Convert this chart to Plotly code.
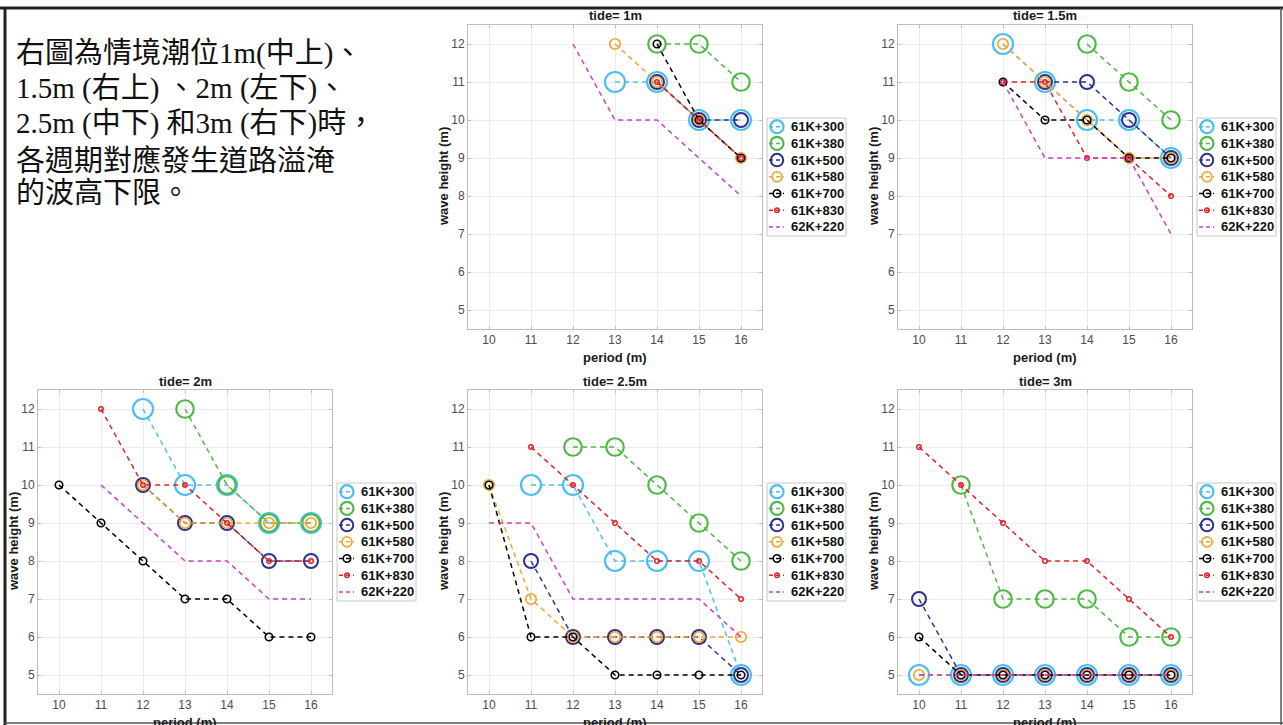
import plotly.graph_objects as go

# ---------------- data ----------------
periods = [10, 11, 12, 13, 14, 15, 16]
y_ticks = [5, 6, 7, 8, 9, 10, 11, 12]
stations = ["61K+300", "61K+380", "61K+500", "61K+580", "61K+700", "61K+830", "62K+220"]
tide_titles = ["tide= 1m", "tide= 1.5m", "tide= 2m", "tide= 2.5m", "tide= 3m"]
N = None

tide_1m = {
    "61K+300": [N, N, N, 11, 11, 10, 10],
    "61K+380": [N, N, N, N, 12, 12, 11],
    "61K+500": [N, N, N, N, 11, 10, 10],
    "61K+580": [N, N, N, 12, 11, 10, 9],
    "61K+700": [N, N, N, N, 12, 10, 9],
    "61K+830": [N, N, N, N, 11, 10, 9],
    "62K+220": [N, N, 12, 10, 10, 9, 8],
}
tide_1_5m = {
    "61K+300": [N, N, 12, 11, 10, 10, 9],
    "61K+380": [N, N, N, N, 12, 11, 10],
    "61K+500": [N, N, N, 11, 11, 10, 9],
    "61K+580": [N, N, 12, 11, 10, 9, 9],
    "61K+700": [N, N, 11, 10, 10, 9, 9],
    "61K+830": [N, N, 11, 11, 9, 9, 8],
    "62K+220": [N, N, 11, 9, 9, 9, 7],
}
tide_2m = {
    "61K+300": [N, N, 12, 10, 10, 9, 9],
    "61K+380": [N, N, N, 12, 10, 9, 9],
    "61K+500": [N, N, 10, 9, 9, 8, 8],
    "61K+580": [N, N, 10, 9, 9, 9, 9],
    "61K+700": [10, 9, 8, 7, 7, 6, 6],
    "61K+830": [N, 12, 10, 10, 9, 8, 8],
    "62K+220": [N, 10, 9, 8, 8, 7, 7],
}
tide_2_5m = {
    "61K+300": [N, 10, 10, 8, 8, 8, 5],
    "61K+380": [N, N, 11, 11, 10, 9, 8],
    "61K+500": [N, 8, 6, 6, 6, 6, 5],
    "61K+580": [10, 7, 6, 6, 6, 6, 6],
    "61K+700": [10, 6, 6, 5, 5, 5, 5],
    "61K+830": [N, 11, 10, 9, 8, 8, 7],
    "62K+220": [9, 9, 7, 7, 7, 7, 6],
}
tide_3m = {
    "61K+300": [5, 5, 5, 5, 5, 5, 5],
    "61K+380": [N, 10, 7, 7, 7, 6, 6],
    "61K+500": [7, 5, 5, 5, 5, 5, 5],
    "61K+580": [5, 5, 5, 5, 5, 5, 5],
    "61K+700": [6, 5, 5, 5, 5, 5, 5],
    "61K+830": [11, 10, 9, 8, 8, 7, 6],
    "62K+220": [5, 5, 5, 5, 5, 5, 5],
}
panels = [tide_1m, tide_1_5m, tide_2m, tide_2_5m, tide_3m]

text_lines = [
    "右圖為情境潮位1m(中上)、",
    "1.5m (右上) 、2m (左下)、",
    "2.5m (中下) 和3m (右下)時，",
    "各週期對應發生道路溢淹",
    "的波高下限。",
]

# ---------------- styles ----------------
W, H = 1283, 725
colors = {"61K+300": "#4DBEEE", "61K+380": "#4FB846", "61K+500": "#2E3192",
          "61K+580": "#EFA733", "61K+700": "#000000", "61K+830": "#E0222C",
          "62K+220": "#CC3FC6"}
msize = {"61K+300": 20, "61K+380": 17.5, "61K+500": 14, "61K+580": 10.5,
         "61K+700": 7.5, "61K+830": 4.5, "62K+220": 0}
leg_size = {"61K+300": 13, "61K+380": 13, "61K+500": 12.5, "61K+580": 10,
            "61K+700": 7.5, "61K+830": 4.5, "62K+220": 0}
mlw = {"61K+300": 2.2, "61K+380": 2.2, "61K+500": 2, "61K+580": 1.7,
       "61K+700": 1.6, "61K+830": 1.5, "62K+220": 0}
DASH = "5px,4px"

# axes boxes in pixels: (x0, x1, y_top, y_bottom)
boxes = [(468, 762, 25, 329), (898, 1192, 25, 329),
         (38, 332, 390, 694), (468, 762, 390, 694), (898, 1192, 390, 694)]
legend_pos = [(767, 118), (1197, 118), (337, 483), (767, 483), (1197, 483)]
LEG_W, LEG_H, LEG_ROW = 79, 118, 16.7


def fx(px):
    return px / W


def fy(py):
    return 1 - py / H


fig = go.Figure()
axis_font = dict(family="Liberation Sans, Arial", size=12, color="#4d4d4d")
bold = dict(family="Liberation Sans, Arial", size=13, color="#1a1a1a", weight="bold")

annotations = []
shapes = []
for i, (data, title, box, lp) in enumerate(zip(panels, tide_titles, boxes, legend_pos)):
    k = "" if i == 0 else str(i + 1)
    for s in stations:
        is_line_only = s == "62K+220"
        fig.add_trace(go.Scatter(
            x=periods, y=data[s], name=s,
            mode="lines" if is_line_only else "lines+markers",
            xaxis="x" + k, yaxis="y" + k,
            line=dict(color=colors[s], width=1.5, dash=DASH),
            marker=dict(symbol="circle-open", size=msize[s],
                        color=colors[s], line=dict(width=mlw[s], color=colors[s])),
            connectgaps=False, showlegend=False,
        ))
    x0, x1, y0, y1 = box
    common = dict(showgrid=True, gridcolor="#ebebeb", gridwidth=1, showline=True,
                  linecolor="#bdbdbd", linewidth=1, mirror="ticks", ticks="inside",
                  ticklen=3, tickcolor="#bdbdbd", tickfont=axis_font, zeroline=False,
                  fixedrange=True)
    fig.update_layout(**{
        "xaxis" + k: dict(domain=[fx(x0), fx(x1)], range=[9.5, 16.5],
                          tickvals=periods, anchor="y" + k, **common),
        "yaxis" + k: dict(domain=[fy(y1), fy(y0)], range=[4.5, 12.5],
                          tickvals=y_ticks, anchor="x" + k, **common),
    })
    cx = (x0 + x1) / 2
    annotations.append(dict(text=title, x=fx(cx), y=fy(y0 - 9), xref="paper", yref="paper",
                            showarrow=False, font=bold, xanchor="center", yanchor="middle"))
    annotations.append(dict(text="period (m)", x=fx(cx), y=fy(y1 + 28), xref="paper",
                            yref="paper", showarrow=False, font=bold,
                            xanchor="center", yanchor="middle"))
    annotations.append(dict(text="wave height (m)", x=fx(x0 - 25), y=fy((y0 + y1) / 2),
                            xref="paper", yref="paper", showarrow=False, font=bold,
                            textangle=-90, xanchor="center", yanchor="middle"))

    # compact MATLAB-style legend box
    bl, bt = lp
    shapes.append(dict(type="rect", xref="paper", yref="paper",
                       x0=fx(bl), x1=fx(bl + LEG_W), y0=fy(bt + LEG_H), y1=fy(bt),
                       line=dict(color="#c8c8c8", width=1), fillcolor="white"))
    for j, s in enumerate(stations):
        cy = bt + 8.7 + j * LEG_ROW
        shapes.append(dict(type="line", xref="paper", yref="paper",
                           x0=fx(bl + 2), x1=fx(bl + 17), y0=fy(cy), y1=fy(cy),
                           line=dict(color=colors[s], width=1.5, dash="4px,3px")))
        if leg_size[s] > 0:
            r = leg_size[s] / 2
            shapes.append(dict(type="circle", xref="paper", yref="paper",
                               xsizemode="pixel", ysizemode="pixel",
                               xanchor=fx(bl + 10), yanchor=fy(cy),
                               x0=-r, x1=r, y0=-r, y1=r,
                               line=dict(color=colors[s], width=mlw[s]),
                               fillcolor="rgba(0,0,0,0)"))
        annotations.append(dict(text=s, x=fx(bl + 22), y=fy(cy), xref="paper",
                                yref="paper", showarrow=False, xanchor="left",
                                yanchor="middle",
                                font=dict(family="Liberation Sans, Arial", size=13,
                                          color="#111", weight="bold")))

line_y = [53, 88, 123, 161, 193]
for t, yy in zip(text_lines, line_y):
    annotations.append(dict(text=t, x=fx(14), y=fy(yy), xref="paper", yref="paper",
                            showarrow=False, xanchor="left", yanchor="middle",
                            font=dict(family="Liberation Serif, Noto Sans CJK TC",
                                      size=29, color="#111")))

shapes += [
    dict(type="line", xref="paper", yref="paper", x0=0, x1=1, y0=fy(8), y1=fy(8),
         line=dict(color="#222", width=3)),
    dict(type="line", xref="paper", yref="paper", x0=fx(5), x1=fx(5), y0=fy(8), y1=0,
         line=dict(color="#222", width=3)),
    dict(type="line", xref="paper", yref="paper", x0=fx(1281), x1=fx(1281), y0=fy(8), y1=0,
         line=dict(color="#555", width=1.5)),
    dict(type="line", xref="paper", yref="paper", x0=fx(5), x1=1, y0=fy(723), y1=fy(723),
         line=dict(color="#555", width=1.5)),
]

fig.update_layout(width=W, height=H, margin=dict(l=0, r=0, t=0, b=0),
                  paper_bgcolor="white", plot_bgcolor="white",
                  annotations=annotations, shapes=shapes, showlegend=False)

fig.write_html("out.html", config={"displayModeBar": False},
               post_script="document.body.style.margin='0';document.body.style.overflow='hidden';")
